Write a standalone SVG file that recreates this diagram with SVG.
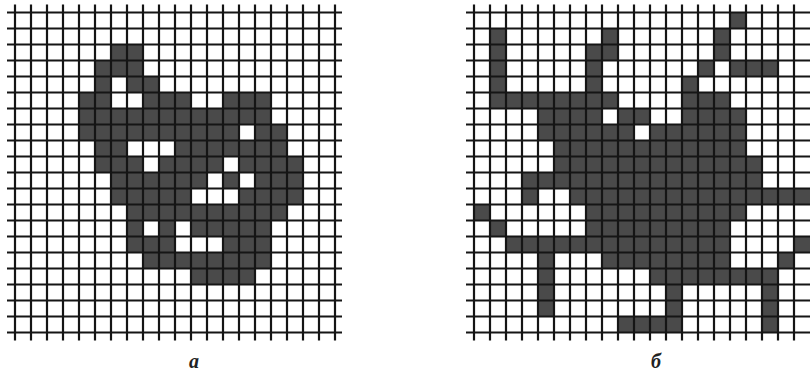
<svg xmlns="http://www.w3.org/2000/svg" width="810" height="376" viewBox="0 0 810 376">
<style>
.d{fill:#4a4a4a}
.g line{stroke:#151515;stroke-width:2.2}
.lbl{font-family:"Liberation Serif",serif;font-weight:bold;font-style:italic;font-size:20px;fill:#222}
</style>
<rect width="810" height="376" fill="#fff"/>
<g id="figA">
<g class="cells" transform="translate(15,12.5)">
<rect class="d" x="96" y="32" width="32" height="16"/>
<rect class="d" x="80" y="48" width="48" height="16"/>
<rect class="d" x="80" y="64" width="16" height="16"/><rect class="d" x="112" y="64" width="32" height="16"/>
<rect class="d" x="64" y="80" width="32" height="16"/><rect class="d" x="128" y="80" width="48" height="16"/><rect class="d" x="208" y="80" width="48" height="16"/>
<rect class="d" x="64" y="96" width="192" height="16"/>
<rect class="d" x="64" y="112" width="160" height="16"/><rect class="d" x="240" y="112" width="32" height="16"/>
<rect class="d" x="80" y="128" width="32" height="16"/><rect class="d" x="160" y="128" width="112" height="16"/>
<rect class="d" x="80" y="144" width="48" height="16"/><rect class="d" x="144" y="144" width="64" height="16"/><rect class="d" x="224" y="144" width="64" height="16"/>
<rect class="d" x="96" y="160" width="96" height="16"/><rect class="d" x="208" y="160" width="16" height="16"/><rect class="d" x="240" y="160" width="48" height="16"/>
<rect class="d" x="96" y="176" width="80" height="16"/><rect class="d" x="224" y="176" width="64" height="16"/>
<rect class="d" x="112" y="192" width="160" height="16"/>
<rect class="d" x="112" y="208" width="16" height="16"/><rect class="d" x="144" y="208" width="16" height="16"/><rect class="d" x="176" y="208" width="80" height="16"/>
<rect class="d" x="112" y="224" width="48" height="16"/><rect class="d" x="208" y="224" width="48" height="16"/>
<rect class="d" x="128" y="240" width="128" height="16"/>
<rect class="d" x="176" y="256" width="64" height="16"/>
</g>
<g class="g">
<line x1="15" y1="4.5" x2="15" y2="340.5"/><line x1="31" y1="4.5" x2="31" y2="340.5"/><line x1="47" y1="4.5" x2="47" y2="340.5"/><line x1="63" y1="4.5" x2="63" y2="340.5"/><line x1="79" y1="4.5" x2="79" y2="340.5"/><line x1="95" y1="4.5" x2="95" y2="340.5"/><line x1="111" y1="4.5" x2="111" y2="340.5"/><line x1="127" y1="4.5" x2="127" y2="340.5"/><line x1="143" y1="4.5" x2="143" y2="340.5"/><line x1="159" y1="4.5" x2="159" y2="340.5"/><line x1="175" y1="4.5" x2="175" y2="340.5"/><line x1="191" y1="4.5" x2="191" y2="340.5"/><line x1="207" y1="4.5" x2="207" y2="340.5"/><line x1="223" y1="4.5" x2="223" y2="340.5"/><line x1="239" y1="4.5" x2="239" y2="340.5"/><line x1="255" y1="4.5" x2="255" y2="340.5"/><line x1="271" y1="4.5" x2="271" y2="340.5"/><line x1="287" y1="4.5" x2="287" y2="340.5"/><line x1="303" y1="4.5" x2="303" y2="340.5"/><line x1="319" y1="4.5" x2="319" y2="340.5"/><line x1="335" y1="4.5" x2="335" y2="340.5"/>
<line x1="7" y1="12.5" x2="342" y2="12.5"/><line x1="7" y1="28.5" x2="342" y2="28.5"/><line x1="7" y1="44.5" x2="342" y2="44.5"/><line x1="7" y1="60.5" x2="342" y2="60.5"/><line x1="7" y1="76.5" x2="342" y2="76.5"/><line x1="7" y1="92.5" x2="342" y2="92.5"/><line x1="7" y1="108.5" x2="342" y2="108.5"/><line x1="7" y1="124.5" x2="342" y2="124.5"/><line x1="7" y1="140.5" x2="342" y2="140.5"/><line x1="7" y1="156.5" x2="342" y2="156.5"/><line x1="7" y1="172.5" x2="342" y2="172.5"/><line x1="7" y1="188.5" x2="342" y2="188.5"/><line x1="7" y1="204.5" x2="342" y2="204.5"/><line x1="7" y1="220.5" x2="342" y2="220.5"/><line x1="7" y1="236.5" x2="342" y2="236.5"/><line x1="7" y1="252.5" x2="342" y2="252.5"/><line x1="7" y1="268.5" x2="342" y2="268.5"/><line x1="7" y1="284.5" x2="342" y2="284.5"/><line x1="7" y1="300.5" x2="342" y2="300.5"/><line x1="7" y1="316.5" x2="342" y2="316.5"/><line x1="7" y1="332.5" x2="342" y2="332.5"/>
</g>
<text class="lbl" x="189" y="368">а</text>
</g>
<g id="figB">
<g class="cells" transform="translate(474,12.5)">
<rect class="d" x="256" y="0" width="16" height="16"/>
<rect class="d" x="16" y="16" width="16" height="16"/><rect class="d" x="128" y="16" width="16" height="16"/><rect class="d" x="240" y="16" width="16" height="16"/>
<rect class="d" x="16" y="32" width="16" height="16"/><rect class="d" x="112" y="32" width="32" height="16"/><rect class="d" x="240" y="32" width="16" height="16"/>
<rect class="d" x="16" y="48" width="16" height="16"/><rect class="d" x="112" y="48" width="16" height="16"/><rect class="d" x="224" y="48" width="16" height="16"/><rect class="d" x="256" y="48" width="48" height="16"/>
<rect class="d" x="16" y="64" width="16" height="16"/><rect class="d" x="112" y="64" width="16" height="16"/><rect class="d" x="208" y="64" width="16" height="16"/>
<rect class="d" x="16" y="80" width="128" height="16"/><rect class="d" x="208" y="80" width="48" height="16"/>
<rect class="d" x="64" y="96" width="64" height="16"/><rect class="d" x="144" y="96" width="32" height="16"/><rect class="d" x="208" y="96" width="64" height="16"/>
<rect class="d" x="64" y="112" width="96" height="16"/><rect class="d" x="176" y="112" width="96" height="16"/>
<rect class="d" x="80" y="128" width="192" height="16"/>
<rect class="d" x="80" y="144" width="208" height="16"/>
<rect class="d" x="48" y="160" width="240" height="16"/>
<rect class="d" x="48" y="176" width="16" height="16"/><rect class="d" x="96" y="176" width="240" height="16"/>
<rect class="d" x="0" y="192" width="16" height="16"/><rect class="d" x="112" y="192" width="160" height="16"/>
<rect class="d" x="16" y="208" width="16" height="16"/><rect class="d" x="112" y="208" width="144" height="16"/>
<rect class="d" x="32" y="224" width="224" height="16"/><rect class="d" x="320" y="224" width="16" height="16"/>
<rect class="d" x="64" y="240" width="16" height="16"/><rect class="d" x="128" y="240" width="128" height="16"/><rect class="d" x="304" y="240" width="16" height="16"/>
<rect class="d" x="64" y="256" width="16" height="16"/><rect class="d" x="176" y="256" width="128" height="16"/>
<rect class="d" x="64" y="272" width="16" height="16"/><rect class="d" x="192" y="272" width="16" height="16"/><rect class="d" x="288" y="272" width="16" height="16"/>
<rect class="d" x="64" y="288" width="16" height="16"/><rect class="d" x="192" y="288" width="16" height="16"/><rect class="d" x="288" y="288" width="16" height="16"/>
<rect class="d" x="144" y="304" width="64" height="16"/><rect class="d" x="288" y="304" width="16" height="16"/>
</g>
<g class="g">
<line x1="474" y1="4.5" x2="474" y2="340.5"/><line x1="490" y1="4.5" x2="490" y2="340.5"/><line x1="506" y1="4.5" x2="506" y2="340.5"/><line x1="522" y1="4.5" x2="522" y2="340.5"/><line x1="538" y1="4.5" x2="538" y2="340.5"/><line x1="554" y1="4.5" x2="554" y2="340.5"/><line x1="570" y1="4.5" x2="570" y2="340.5"/><line x1="586" y1="4.5" x2="586" y2="340.5"/><line x1="602" y1="4.5" x2="602" y2="340.5"/><line x1="618" y1="4.5" x2="618" y2="340.5"/><line x1="634" y1="4.5" x2="634" y2="340.5"/><line x1="650" y1="4.5" x2="650" y2="340.5"/><line x1="666" y1="4.5" x2="666" y2="340.5"/><line x1="682" y1="4.5" x2="682" y2="340.5"/><line x1="698" y1="4.5" x2="698" y2="340.5"/><line x1="714" y1="4.5" x2="714" y2="340.5"/><line x1="730" y1="4.5" x2="730" y2="340.5"/><line x1="746" y1="4.5" x2="746" y2="340.5"/><line x1="762" y1="4.5" x2="762" y2="340.5"/><line x1="778" y1="4.5" x2="778" y2="340.5"/><line x1="794" y1="4.5" x2="794" y2="340.5"/>
<line x1="466" y1="12.5" x2="810" y2="12.5"/><line x1="466" y1="28.5" x2="810" y2="28.5"/><line x1="466" y1="44.5" x2="810" y2="44.5"/><line x1="466" y1="60.5" x2="810" y2="60.5"/><line x1="466" y1="76.5" x2="810" y2="76.5"/><line x1="466" y1="92.5" x2="810" y2="92.5"/><line x1="466" y1="108.5" x2="810" y2="108.5"/><line x1="466" y1="124.5" x2="810" y2="124.5"/><line x1="466" y1="140.5" x2="810" y2="140.5"/><line x1="466" y1="156.5" x2="810" y2="156.5"/><line x1="466" y1="172.5" x2="810" y2="172.5"/><line x1="466" y1="188.5" x2="810" y2="188.5"/><line x1="466" y1="204.5" x2="810" y2="204.5"/><line x1="466" y1="220.5" x2="810" y2="220.5"/><line x1="466" y1="236.5" x2="810" y2="236.5"/><line x1="466" y1="252.5" x2="810" y2="252.5"/><line x1="466" y1="268.5" x2="810" y2="268.5"/><line x1="466" y1="284.5" x2="810" y2="284.5"/><line x1="466" y1="300.5" x2="810" y2="300.5"/><line x1="466" y1="316.5" x2="810" y2="316.5"/><line x1="466" y1="332.5" x2="810" y2="332.5"/>
</g>
<text class="lbl" x="651" y="368">б</text>
</g>
</svg>
